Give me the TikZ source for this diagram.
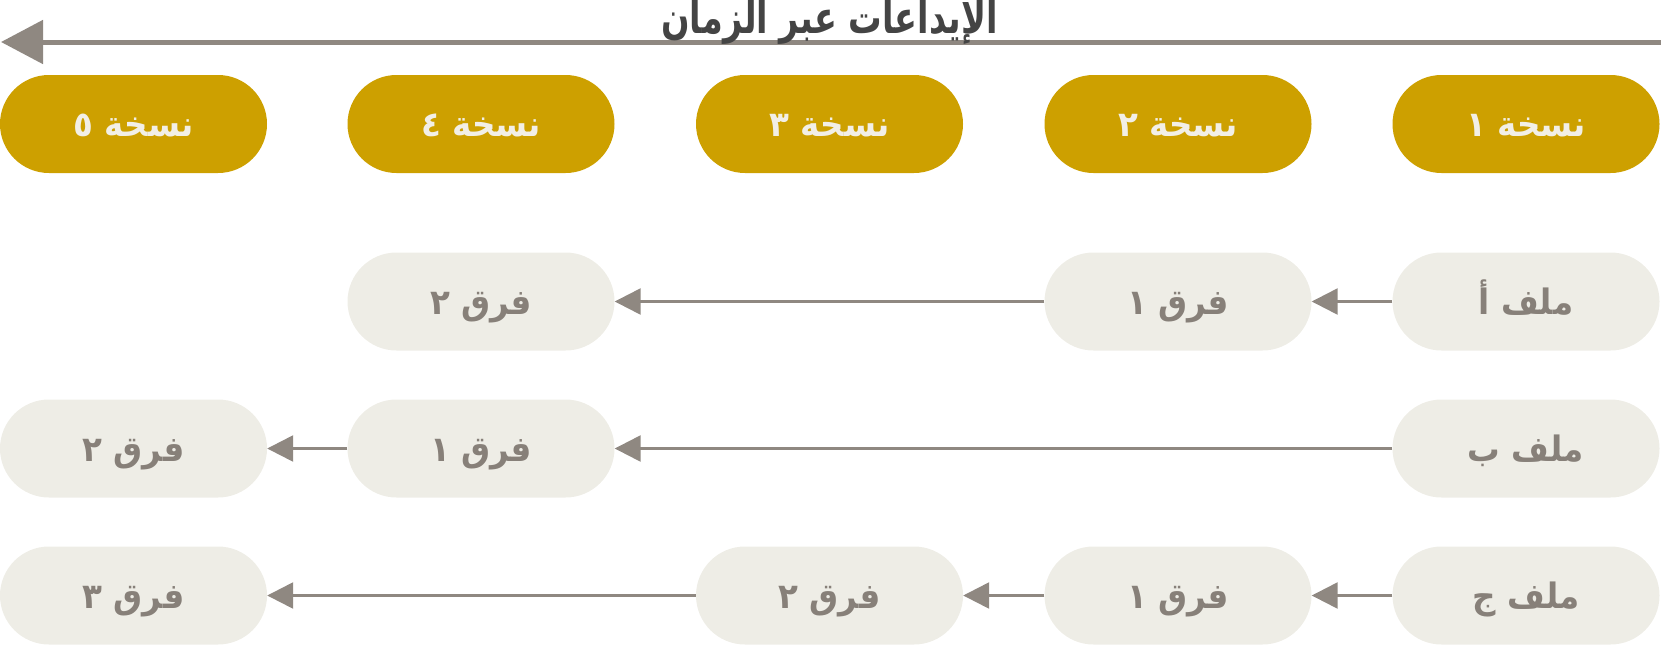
\documentclass[tikz,border=0pt]{standalone}
\usepackage{fontspec}
\usetikzlibrary{arrows.meta}
\TeXXeTstate=1
\newfontfamily\arabicfont[Script=Arabic,FakeStretch=0.93]{DejaVu Sans}
\definecolor{gold}{HTML}{CDA000}
\definecolor{goldtext}{HTML}{F2EFE6}
\definecolor{pale}{HTML}{EEEDE6}
\definecolor{paletext}{HTML}{878079}
\definecolor{arrowgray}{HTML}{8F8881}
\definecolor{titlegray}{HTML}{444444}
\tikzset{
  box/.style={rectangle, rounded corners=49pt, minimum width=267pt, minimum height=98pt, inner sep=0pt,
    text height=25pt, text depth=0pt,
    font=\arabicfont\bfseries\fontsize{35}{40}\selectfont},
  headbox/.style={box, fill=gold, text=goldtext},
  filebox/.style={box, fill=pale, text=paletext},
  link/.style={draw=arrowgray, line width=2.5pt, -{Triangle[length=26pt,width=26pt]}},
  timeline/.style={draw=arrowgray, line width=5pt, -{Triangle[length=42pt,width=43pt]}},
  titlestyle/.style={anchor=base, text=titlegray, inner sep=0pt, font=\arabicfont\bfseries\fontsize{36}{40}\selectfont}
}
\newcommand{\ar}[1]{\beginR #1\endR}
\begin{document}
\begin{tikzpicture}[x=1pt,y=-1pt]
\useasboundingbox (0,0) rectangle (1661,645);
% timeline
\coordinate (tr) at (1661,42);
\coordinate (tl) at (1,42);
\draw[timeline] (tr) -- (tl);
\node[titlestyle] (title) at (829.5,33) {\scalebox{1}[1.25]{\ar{الإيداعات عبر الزمان}}};
% headers
\node[headbox] (h1) at (1526,124) {\ar{نسخة ١}};
\node[headbox] (h2) at (1178,124) {\ar{نسخة ٢}};
\node[headbox] (h3) at (829.5,124) {\ar{نسخة ٣}};
\node[headbox] (h4) at (481,124) {\ar{نسخة ٤}};
\node[headbox] (h5) at (133.5,124) {\ar{نسخة ٥}};
% row A
\node[filebox] (a1) at (1526,301.5) {\ar{ملف أ}};
\node[filebox] (a2) at (1178,301.5) {\ar{فرق ١}};
\node[filebox] (a4) at (481,301.5) {\ar{فرق ٢}};
% row B
\node[filebox] (b1) at (1526,448.5) {\ar{ملف ب}};
\node[filebox] (b4) at (481,448.5) {\ar{فرق ١}};
\node[filebox] (b5) at (133.5,448.5) {\ar{فرق ٢}};
% row C
\node[filebox] (c1) at (1526,595.5) {\ar{ملف ج}};
\node[filebox] (c2) at (1178,595.5) {\ar{فرق ١}};
\node[filebox] (c3) at (829.5,595.5) {\ar{فرق ٢}};
\node[filebox] (c5) at (133.5,595.5) {\ar{فرق ٣}};
% links
\draw[link] (a1) -- (a2);
\draw[link] (a2) -- (a4);
\draw[link] (b1) -- (b4);
\draw[link] (b4) -- (b5);
\draw[link] (c1) -- (c2);
\draw[link] (c2) -- (c3);
\draw[link] (c3) -- (c5);
\end{tikzpicture}
\end{document}
